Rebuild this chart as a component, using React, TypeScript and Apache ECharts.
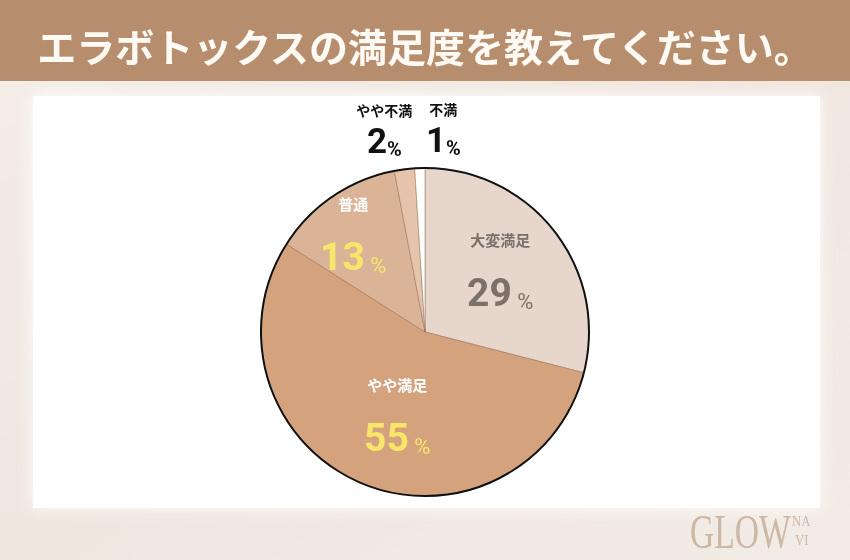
import { useEffect, useRef } from "react";
import * as echarts from "echarts";

const TITLE = "エラボトックスの満足度を教えてください。";
const categories = ["大変満足", "やや満足", "普通", "やや不満", "不満"];
const values = [29, 55, 13, 2, 1];

const sliceColors = ["#e6d6cc", "#d4a37e", "#dbb497", "#e5c4ab", "#ffffff"];
const nameColors = ["#7b716a", "#ffffff", "#ffffff", "#111111", "#111111"];
const valueColors = ["#7b716a", "#f8e66a", "#f8e66a", "#111111", "#111111"];
const labelOffsets = [
  [8, -12],
  [6, 2],
  [-24, -30],
  [-30, -119],
  [21, -119],
];
const bigLabel = [true, true, true, false, false];

const CJK = '"Noto Sans CJK JP", "Noto Sans", sans-serif';
const NUM = 'Roboto, "Noto Sans", sans-serif';
const SERIF = '"Liberation Serif", "DejaVu Serif", serif';

export default function App() {
  const ref = useRef<HTMLDivElement>(null);
  useEffect(() => {
    if (!ref.current) return;
    const chart = echarts.init(ref.current, undefined, { renderer: "svg" });

    const data = categories.map((name, i) => {
      const big = bigLabel[i];
      return {
        name,
        value: values[i],
        itemStyle: { color: sliceColors[i] },
        label: {
          formatter: big ? "{n|{b}}\n{v|{c}}{p| %}" : "{n|{b}}\n{v|{c}}{p|%}",
          rich: {
            n: {
              fontFamily: CJK,
              fontSize: big ? 15 : 14,
              fontWeight: "bold",
              color: nameColors[i],
              lineHeight: big ? 34 : 22,
              align: "center",
            },
            v: {
              fontFamily: NUM,
              fontSize: big ? 39 : 35,
              fontWeight: "bold",
              color: valueColors[i],
              lineHeight: big ? 56 : 38,
              verticalAlign: "bottom",
            },
            p: {
              fontFamily: NUM,
              fontSize: big ? 22 : 20,
              fontWeight: big ? "normal" : "bold",
              color: valueColors[i],
              verticalAlign: "bottom",
              lineHeight: big ? 45 : 30,
            },
          },
        },
      };
    });

    chart.setOption({
      animation: false,
      graphic: {
        elements: [
          {
            type: "rect",
            z: -10,
            shape: { x: 0, y: 0, width: 850, height: 560 },
            style: {
              fill: {
                type: "linear",
                x: 0,
                y: 0,
                x2: 1,
                y2: 1,
                colorStops: [
                  { offset: 0, color: "#f4eee9" },
                  { offset: 0.5, color: "#efe6de" },
                  { offset: 1, color: "#f3ece6" },
                ],
              },
            },
            silent: true,
          },
          {
            type: "rect",
            z: -9,
            shape: { x: 33, y: 96, width: 787, height: 412 },
            style: { fill: "#ffffff", shadowBlur: 16, shadowColor: "rgba(255,255,255,0.95)" },
            silent: true,
          },
          {
            type: "rect",
            z: -8,
            shape: { x: 0, y: 0, width: 850, height: 81 },
            style: { fill: "#b68e6e" },
            silent: true,
          },
          {
            type: "text",
            z: 5,
            x: 425,
            y: 45,
            style: {
              text: TITLE,
              fill: "#fffaf3",
              font: `bold 39px ${CJK}`,
              textAlign: "center",
              textVerticalAlign: "middle",
            },
            silent: true,
          },
          {
            type: "text",
            z: 5,
            x: 690,
            y: 532,
            scaleX: 0.7,
            style: {
              text: "GLOW",
              fill: "#cdb8a6",
              font: `normal 48px ${SERIF}`,
              textVerticalAlign: "middle",
            },
            silent: true,
          },
          {
            type: "text",
            z: 5,
            x: 792,
            y: 521,
            scaleX: 0.85,
            style: {
              text: "NA",
              fill: "#cdb8a6",
              font: `normal 15px ${SERIF}`,
              textVerticalAlign: "middle",
            },
            silent: true,
          },
          {
            type: "text",
            z: 5,
            x: 795,
            y: 540,
            scaleX: 0.85,
            style: {
              text: "VI",
              fill: "#cdb8a6",
              font: `normal 15px ${SERIF}`,
              textVerticalAlign: "middle",
            },
            silent: true,
          },
        ],
      },
      series: [
        {
          type: "pie",
          center: [425, 332],
          radius: [0, 164],
          startAngle: 90,
          clockwise: true,
          avoidLabelOverlap: false,
          silent: true,
          itemStyle: { borderColor: "rgba(140,100,75,0.45)", borderWidth: 1 },
          label: { show: true, position: "inside" },
          labelLine: { show: false },
          labelLayout: (params: any) => {
            const o = labelOffsets[params.dataIndex];
            return { dx: o[0], dy: o[1] };
          },
          data,
        },
        {
          type: "pie",
          center: [425, 332],
          radius: [0, 164],
          silent: true,
          z: 3,
          label: { show: false },
          labelLine: { show: false },
          itemStyle: { color: "rgba(0,0,0,0)", borderColor: "#111111", borderWidth: 2 },
          data: [{ name: "outline", value: 1 }],
        },
      ],
    });
    return () => chart.dispose();
  }, []);
  return (
    <div
      ref={ref}
      style={{ position: "fixed", left: 0, top: 0, width: 850, height: 560 }}
    />
  );
}
